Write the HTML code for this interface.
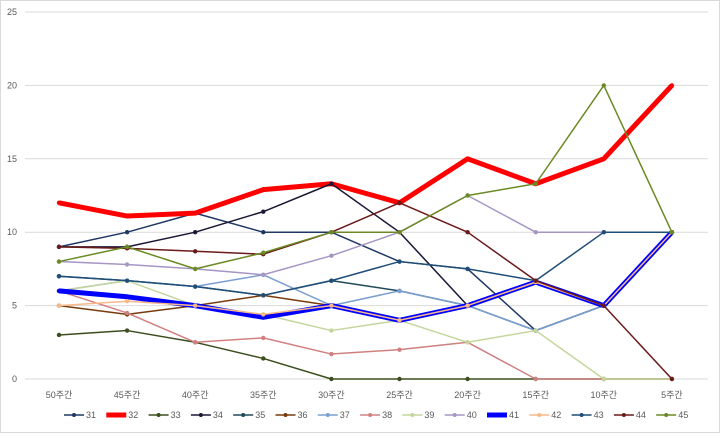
<!DOCTYPE html>
<html><head><meta charset="utf-8">
<style>
body{margin:0;background:#fff;font-family:"Liberation Sans","Noto Sans CJK KR",sans-serif;}
svg text{font-family:"Liberation Sans","Noto Sans CJK KR",sans-serif;}
</style></head>
<body>
<svg id="chart" width="720" height="433" xmlns="http://www.w3.org/2000/svg">
<rect x="0.5" y="0.5" width="719" height="432" fill="#fff" stroke="#d9d9d9"/>
<g id="grid"></g><g id="series"></g><g id="legend"></g>
</svg>
<script>
const categories=["50주간","45주간","40주간","35주간","30주간","25주간","20주간","15주간","10주간","5주간"];
const yTicks=[0,5,10,15,20,25];
const names=["31","32","33","34","35","36","37","38","39","40","41","42","43","44","45"];
const s31=[9,10,11.3,10,10,8,7.5,3.3,5,10];
const s32=[12,11.1,11.3,12.9,13.3,12,15,13.3,15,20];
const s33=[3,3.3,2.5,1.4,0,0,0,0,0,0];
const s34=[9,9,10,11.4,13.3,10,5,6.7,5,10];
const s35=[7,6.7,6.3,5.7,6.7,6,5,3.3,5,10];
const s36=[5,4.4,5,5.7,5,4,5,6.6,5,10];
const s37=[6,6.7,6.3,7.1,5,6,5,3.3,5,10];
const s38=[6,4.5,2.5,2.8,1.7,2,2.5,0,0,0];
const s39=[6,6.7,5,4.4,3.3,4,2.5,3.3,0,0];
const s40=[8,7.8,7.5,7.1,8.4,10,12.5,10,10,10];
const s41=[6,5.6,5,4.2,5,4,5,6.6,5,10];
const s42=[5,5.3,5,4.4,5,4,5,6.6,5,10];
const s43=[7,6.7,6.3,5.7,6.7,8,7.5,6.7,10,10];
const s44=[9,8.9,8.7,8.5,10,12,10,6.7,5,0];
const s45=[8,9,7.5,8.6,10,10,12.5,13.3,20,10];
const seriesData=[s31,s32,s33,s34,s35,s36,s37,s38,s39,s40,s41,s42,s43,s44,s45];
const colors=["#1f3864","#ff0000","#3b4e1e","#1b1735","#1e4a5a","#7a3b0c","#7a9fd0","#d08080","#c3d69b","#a596c4","#0000ff","#f7b98a","#1f4e79","#6b1a1a","#6b8a23"];
const widths=[1.5,5,1.5,1.5,1.5,1.5,1.5,1.5,1.5,1.5,5,1.5,1.5,1.5,1.5];
const NS="http://www.w3.org/2000/svg";
const x=i=>59+i*68.1;
const y=v=>379-v*14.68;
const grid=document.getElementById('grid');
yTicks.forEach(t=>{
 const l=document.createElementNS(NS,'line');
 
 
 l.setAttribute('x1',25);l.setAttribute('x2',708);l.setAttribute('y1',y(t));l.setAttribute('y2',y(t));
 l.setAttribute('stroke','#d9d9d9');grid.appendChild(l);
 const tx=document.createElementNS(NS,'text');
 
 
 tx.setAttribute('x',17);tx.setAttribute('y',y(t)+3);tx.setAttribute('text-anchor','end');
 tx.setAttribute('font-size','9');tx.setAttribute('fill','#595959');tx.textContent=t;grid.appendChild(tx);
});
categories.forEach((c,i)=>{
 const tx=document.createElementNS(NS,'text');
 
 
 tx.setAttribute('x',x(i));tx.setAttribute('y',398);tx.setAttribute('text-anchor','middle');
 tx.setAttribute('font-size','9');tx.setAttribute('fill','#595959');tx.textContent=c;grid.appendChild(tx);
});
const sg=document.getElementById('series');
seriesData.forEach((d,k)=>{
 const g=document.createElementNS(NS,'g');
 
 
 const p=document.createElementNS(NS,'polyline');
 
 
 p.setAttribute('points',d.map((v,i)=>x(i)+','+y(v)).join(' '));
 p.setAttribute('fill','none');p.setAttribute('stroke',colors[k]);p.setAttribute('stroke-width',widths[k]);
 p.setAttribute('stroke-linejoin','round');
 g.appendChild(p);
 d.forEach((v,i)=>{
  const c=document.createElementNS(NS,'circle');
  
  
  c.setAttribute('cx',x(i));c.setAttribute('cy',y(v));c.setAttribute('r',2.2);c.setAttribute('fill',colors[k]);
  g.appendChild(c);
 });
 sg.appendChild(g);
});
const lg=document.getElementById('legend');
names.forEach((n,k)=>{
 const lx=64+k*42.3, ly=415;
 const g=document.createElementNS(NS,'g');
 
 
 const l=document.createElementNS(NS,'line');
 l.setAttribute('x1',lx);l.setAttribute('x2',lx+20);l.setAttribute('y1',ly);l.setAttribute('y2',ly);
 l.setAttribute('stroke',colors[k]);l.setAttribute('stroke-width',widths[k]);g.appendChild(l);
 const c=document.createElementNS(NS,'circle');
 c.setAttribute('cx',lx+10);c.setAttribute('cy',ly);c.setAttribute('r',2);c.setAttribute('fill',colors[k]);g.appendChild(c);
 const t=document.createElementNS(NS,'text');
 t.setAttribute('x',lx+22);t.setAttribute('y',ly+3);t.setAttribute('font-size','9');t.setAttribute('fill','#595959');
 t.textContent=n;g.appendChild(t);
 lg.appendChild(g);
});
</script>
</body></html>
